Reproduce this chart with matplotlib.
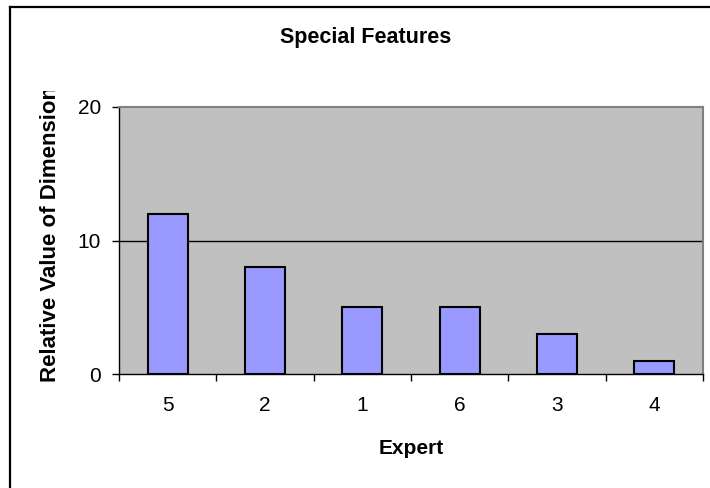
import matplotlib
matplotlib.use("Agg")
import matplotlib.pyplot as plt
from matplotlib.lines import Line2D
from matplotlib.transforms import Bbox

plt.rcParams["font.family"] = ["Liberation Sans", "DejaVu Sans"]

experts = ["5", "2", "1", "6", "3", "4"]
values = [12, 8, 5, 5, 3, 1]
yticks = [0, 10, 20]

W, H = 710, 488
fig = plt.figure(figsize=(W / 100, H / 100), dpi=100)
fig.patch.set_facecolor("white")

# outer chart border (left and top edges)
fig.add_artist(Line2D([10 / W, 10 / W], [0, 1 - 6.5 / H], color="black", lw=1.6))
fig.add_artist(Line2D([10 / W, 1], [1 - 6.5 / H, 1 - 6.5 / H], color="black", lw=1.6))

ax = fig.add_axes([119 / W, 1 - 374 / H, (703 - 119) / W, (374 - 107) / H])
ax.set_facecolor("#C0C0C0")

x = range(len(experts))
ax.bar(x, values, width=0.41, color="#9999FF", edgecolor="black", linewidth=1.5, zorder=3)

ax.set_xlim(-0.5, len(experts) - 0.5)
ax.set_ylim(0, 20)
ax.set_yticks(yticks)
ax.set_xticks(x)
ax.set_xticklabels(experts)
ax.axhline(10, color="black", lw=1, zorder=2)

# category boundary ticks on the x axis
ax.set_xticks([i - 0.5 for i in range(len(experts) + 1)], minor=True)
ax.tick_params(axis="x", which="major", length=0, labelsize=15, pad=16)
ax.tick_params(axis="x", which="minor", length=5, width=1, direction="out")
ax.tick_params(axis="y", length=5, width=1, direction="out", labelsize=15, pad=8)

for side in ["top", "right"]:
    ax.spines[side].set_color("#808080")
    ax.spines[side].set_linewidth(1.5)
for side in ["left", "bottom"]:
    ax.spines[side].set_color("black")
    ax.spines[side].set_linewidth(1)

fig.text(366 / W, 1 - 37 / H, "Special Features", ha="center", va="center",
         fontsize=15.5, fontweight="bold")
fig.text(411 / W, 1 - 448 / H, "Expert", ha="center", va="center",
         fontsize=15, fontweight="bold")

ylab = fig.text(51 / W, 1 - 382 / H, "Relative Value of Dimension", rotation=90,
                ha="center", va="bottom", fontsize=16, fontweight="bold")
ylab.set_clip_box(Bbox.from_extents(0, 0, 120, H - 91))
ylab.set_clip_on(True)

fig.savefig("out.png", dpi=100)
